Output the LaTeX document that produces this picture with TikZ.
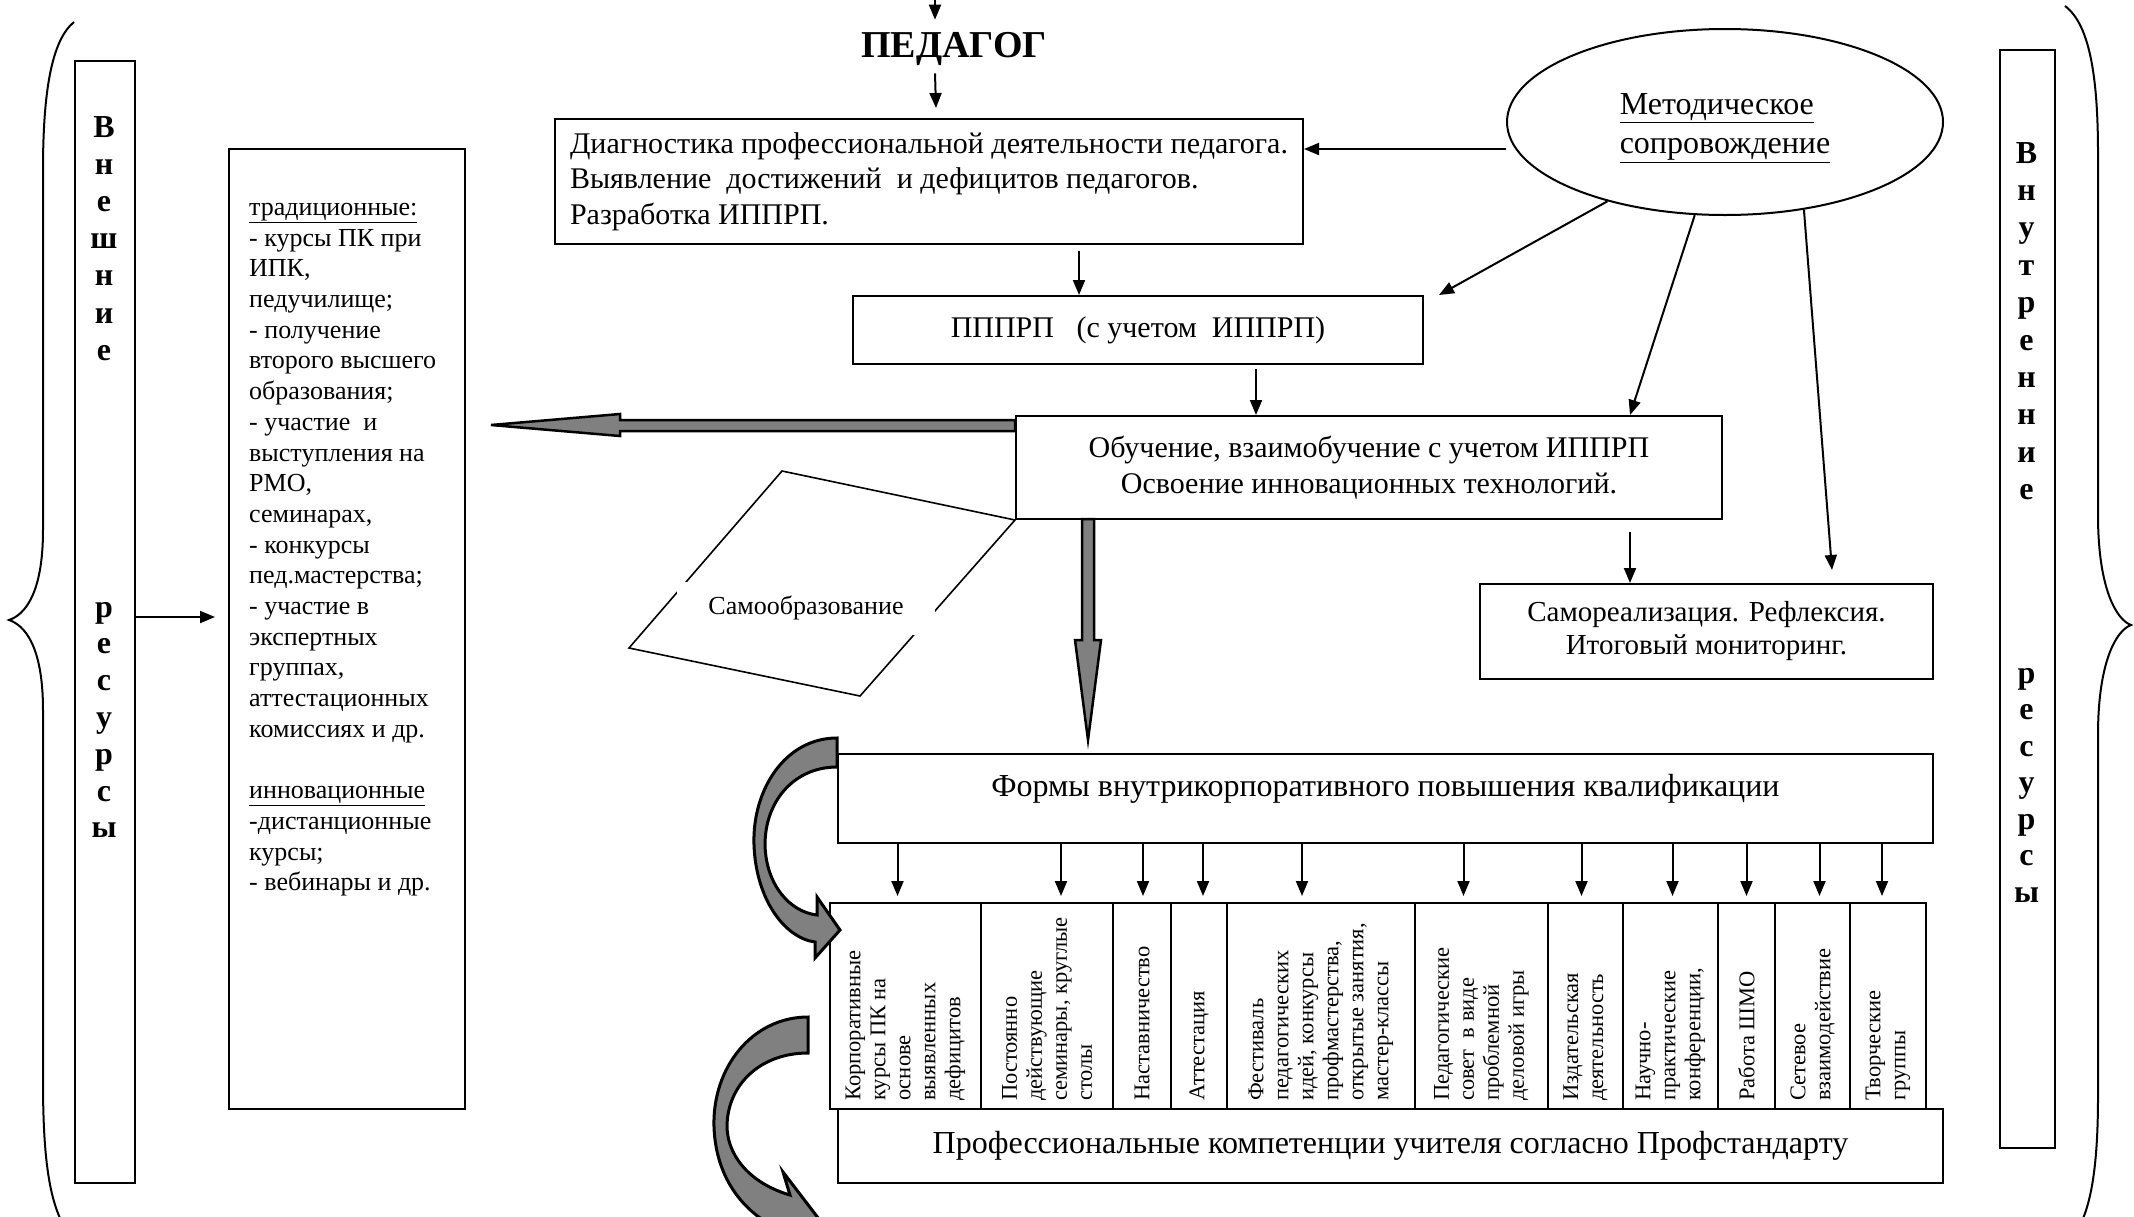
\documentclass[tikz,border=0pt]{standalone}
\usepackage{fontspec}
\setmainfont{Liberation Serif}
\usetikzlibrary{arrows.meta,shapes.geometric}
\definecolor{blockgray}{RGB}{128,128,128}
\begin{document}
\begin{tikzpicture}[x=1pt,y=-1pt,
  every node/.style={inner sep=0pt},
  lw/.style={line width=2pt},
  box/.style={draw,line width=2pt,rectangle,inner sep=0pt,anchor=north west},
  arr/.style={line width=2pt,-{Triangle[length=15pt,width=12pt]}},
  mtext/.style={font=\fontsize{30}{35.5}\selectfont},
  btext/.style={font=\fontsize{32}{37}\selectfont},
  ltext/.style={font=\fontsize{26}{30.7}\selectfont},
  ctext/.style={font=\fontsize{22.5}{25}\selectfont},
  vletter/.style={font=\bfseries\fontsize{32}{37}\selectfont},
  blockarr/.style={draw=black,line width=2.5pt,fill=blockgray,line join=miter},
]
\useasboundingbox (0,0) rectangle (2134,1216);
\clip (0,0) rectangle (2134,1216);

% braces
\draw[lw] (74,22) .. controls (52,40) and (43,90) .. (43,170) -- (43,530)
  .. controls (43,595) and (24,615) .. (9,620) .. controls (24,625) and (43,645) .. (43,710)
  -- (43,1080) .. controls (43,1165) and (50,1222) .. (80,1245);
\draw[lw] (2065,6) .. controls (2089,24) and (2098,74) .. (2098,154) -- (2098,515)
  .. controls (2098,590) and (2117,620) .. (2131,625) .. controls (2117,630) and (2098,660) .. (2098,735)
  -- (2098,1096) .. controls (2098,1176) and (2089,1226) .. (2065,1244);

% side boxes
\node[box, minimum width=60, minimum height=1122] (vnesh) at (74,60) {};
\node[box, minimum width=55, minimum height=1098] (vnutr) at (1999,49) {};
\foreach \l [count=\i from 0] in {В,н,е,ш,н,и,е}
  \node[vletter, anchor=base] (vna\i) at (104,{137+37.2*\i}) {\l};
\foreach \l [count=\i from 0] in {р,е,с,у,р,с,ы}
  \node[vletter, anchor=base] (vnb\i) at (104,{617+36.8*\i}) {\l};
\foreach \l [count=\i from 0] in {В,н,у,т,р,е,н,н,и,е}
  \node[vletter, anchor=base] (vta\i) at (2026.5,{163+37.4*\i}) {\l};
\foreach \l [count=\i from 0] in {р,е,с,у,р,с,ы}
  \node[vletter, anchor=base] (vtb\i) at (2026.5,{683+36.5*\i}) {\l};

% list box
\node[box, minimum width=236, minimum height=960] (list) at (228,148) {};
\node[ltext, anchor=north west, align=left] (listtxt) at (249,203) {\underline{традиционные:}\\
- курсы ПК при\\
ИПК,\\
педучилище;\\
- получение\\
второго высшего\\
образования;\\
- участие~ и\\
выступления на\\
РМО,\\
семинарах,\\
- конкурсы\\
пед.мастерства;\\
- участие в\\
экспертных\\
группах,\\
аттестационных\\
комиссиях и др.\\[30.7pt]
\underline{инновационные}\\
-дистанционные\\
курсы;\\
- вебинары и др.};

% top part
\node[font=\bfseries\fontsize{38}{44}\selectfont] (ped) at (954,49) {ПЕДАГОГ};
\coordinate (pedin) at (935,-5);
\node[box, minimum width=748, minimum height=125, align=left, mtext] (diag) at (554,118)
  {Диагностика профессиональной деятельности педагога.\\Выявление~ достижений~ и дефицитов педагогов.\\Разработка ИППРП.};
\node[ellipse, draw, lw, minimum width=436, minimum height=186] (ell) at (1725,122) {};
\node[align=left, font=\fontsize{32}{39}\selectfont] (elltxt) at ([yshift=-6]ell.center)
  {\underline{Методическое}\\\underline{сопровождение}};
\node[box, minimum width=570, minimum height=68, mtext] (pppr) at (852,295) {ПППРП~~ (с учетом~ ИППРП)};
\node[box, minimum width=706, minimum height=103, mtext, align=center] (obuch) at (1015,415)
  {Обучение, взаимобучение с учетом ИППРП\\Освоение инновационных технологий.};
\node[box, minimum width=453, minimum height=95, align=center, font=\fontsize{29}{33}\selectfont] (samoreal) at (1479,583)
  {Самореализация. Рефлексия.\\Итоговый мониторинг.};

% self-education parallelogram
\draw[line width=1.6pt] (782,471) -- (obuch.south west) -- (860,696) -- (629,648) -- cycle;
\node[fill=white, minimum width=258, minimum height=53, font=\fontsize{26}{30}\selectfont] (samoobr) at (806,608) {Самообразование};

% forms
\node[box, minimum width=1095, minimum height=89] (forms) at (837,753) {};
\node[btext] (formstxt) at ([yshift=9.5]forms.center) {Формы внутрикорпоративного повышения квалификации};
\node[box, minimum width=1105, minimum height=74, btext] (prof) at (837,1108)
  {Профессиональные компетенции учителя согласно Профстандарту};

\foreach \xa/\xb/\n in {829/980/1,980/1112/2,1112/1170/3,1170/1226/4,1226/1414/5,1414/1547/6,1547/1622/7,1622/1717/8,1717/1774/9,1774/1849/10,1849/1925/11}
  \node[box, minimum width={\xb-\xa}, minimum height=206] (col\n) at (\xa,902) {};

\foreach \n/\t in {1/{Корпоративные\\курсы ПК на\\основе\\выявленных\\дефицитов},
  2/{Постоянно\\действующие\\семинары, круглые\\столы},
  3/{Наставничество},
  4/{Аттестация},
  5/{Фестиваль\\педагогических\\идей, конкурсы\\профмастерства,\\открытые занятия,\\мастер-классы},
  6/{Педагогические\\совет~ в виде\\проблемной\\деловой игры},
  7/{Издательская\\деятельность},
  8/{Научно-\\практические\\конференции,},
  9/{Работа ШМО},
  10/{Сетевое\\взаимодействие},
  11/{Творческие\\группы}}
  \node[ctext, rotate=90, anchor=west, align=left] (ct\n) at ([yshift=9]col\n.south) {\t};

% connectors
\draw[arr] (pedin) -- ([xshift=-19,yshift=12.5]ped.north);
\draw[arr] ([xshift=-19,yshift=-7.5]ped.south) -- ([xshift=7,yshift=10]diag.north);
\draw[arr] ([yshift=32.5]diag.east -| ell.west) -- ([yshift=32.5]diag.east);
\draw[arr] ([xshift=-59,yshift=-6]pppr.north |- diag.south) -- ([xshift=-59]pppr.north);
\draw[arr] ([xshift=-113,yshift=-4]obuch.north |- pppr.south) -- ([xshift=-113]obuch.north);
\draw[arr] (ell.214.6) -- ([xshift=15]pppr.north east);
\draw[arr] (ell.252) -- ([xshift=261]obuch.north);
\draw[arr] (ell.312) -- ([xshift=125.5,yshift=13]samoreal.north);
\draw[arr] ([xshift=-76.5,yshift=-12]samoreal.north |- obuch.south) -- ([xshift=-76.5]samoreal.north);
\draw[arr] (vnesh.east |- 0,617) -- ([xshift=-13]list.west |- 0,617);

\foreach \n/\dx in {1/-8,2/14,3/1,4/4,5/-19,6/-18,7/-4,8/2,9/0,10/7,11/-6}
  \draw[arr] ([xshift=\dx]col\n.north |- forms.south) -- ([xshift=\dx,yshift=6]col\n.north);

% block arrows
\coordinate (lefttip) at (491,425);
\draw[blockarr] (obuch.west |- 0,420) -- (620,420) -- (620,414) -- (lefttip) -- (620,436) -- (620,431) -- (obuch.west |- 0,431) -- cycle;
\coordinate (downtip) at (1088,740);
\draw[blockarr] (1082,519) -- (1082,640) -- (1075,640) -- (downtip) -- (1101,640) -- (1094,640) -- (1094,519) -- cycle;

% curved arrows
\draw[blockarr, line width=3pt] (forms.west |- 0,738) .. controls (785,738) and (752,790) .. (754,845)
  .. controls (756,900) and (785,938) .. (815,942) -- (815,958) -- (840,930) -- (817,897) -- (817,915)
  .. controls (790,912) and (766,885) .. (765,845) .. controls (765,800) and (795,767) .. (forms.west |- 0,767) -- cycle;
\draw[blockarr, line width=3pt] (808,1017) .. controls (752,1017) and (712,1068) .. (714,1127)
  .. controls (716,1180) and (745,1215) .. (785,1232) -- (780,1255) -- (835,1240) -- (783,1172) -- (790,1195)
  .. controls (755,1185) and (728,1160) .. (727,1127) .. controls (727,1085) and (760,1053) .. (808,1053) -- cycle;
\end{tikzpicture}
\end{document}
